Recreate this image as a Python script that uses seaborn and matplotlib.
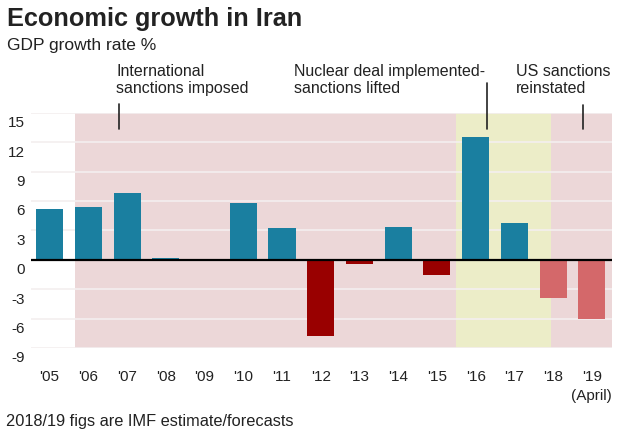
import matplotlib
matplotlib.use("Agg")
import matplotlib.pyplot as plt
import matplotlib.transforms as mtransforms
import seaborn as sns
import pandas as pd

years = ["'05", "'06", "'07", "'08", "'09", "'10", "'11", "'12", "'13", "'14",
         "'15", "'16", "'17", "'18", "'19"]
growth = [5.2, 5.4, 6.8, 0.2, 0.0, 5.8, 3.2, -7.8, -0.4, 3.3, -1.6, 12.5, 3.7, -3.9, -6.0]
kind = ["pos", "pos", "pos", "pos", "pos", "pos", "pos", "neg", "neg", "pos",
        "neg", "pos", "pos", "fc", "fc"]
tick_labels = years[:-1] + ["'19\n(April)"]
yticks = [-9, -6, -3, 0, 3, 6, 9, 12, 15]

palette = {"pos": "#1a7fa0", "neg": "#990000", "fc": "#d4686a"}
PINK = "#ecd7d8"
YELLOW = "#ecedc8"

sns.set_style("white")
plt.rcParams["font.family"] = ["Liberation Sans", "DejaVu Sans"]

W, H = 635, 429
fig = plt.figure(figsize=(W / 100, H / 100), dpi=100)
ax_l, ax_r, ax_t, ax_b = 31, 612, 112.7, 348
ax = fig.add_axes([ax_l / W, 1 - ax_b / H, (ax_r - ax_l) / W, (ax_b - ax_t) / H])

df = pd.DataFrame({"year": years, "growth": growth, "kind": kind})

# shaded periods
ax.axvspan(0.65, 14.52, color=PINK, zorder=0.1, lw=0)
ax.axvspan(10.5, 12.95, color=YELLOW, zorder=0.2, lw=0)

for yv in yticks:
    if yv != 0:
        ax.axhline(yv, color="#f4efef", lw=1.2, zorder=0.5)

sns.barplot(data=df, x="year", y="growth", hue="kind", palette=palette,
            dodge=False, width=0.7, legend=False, ax=ax, zorder=2,
            saturation=1, linewidth=0, edgecolor="none")
ax.set_xlim(-0.48, 14.52)
ax.set_ylim(-9, 15)

ax.axhline(0, color="black", lw=1.6, zorder=3)

for s in ax.spines.values():
    s.set_visible(False)
ax.set_xlabel("")
ax.set_ylabel("")
ax.set_yticks(yticks)
ax.set_yticklabels([str(v) for v in yticks])
ax.set_xticks(range(len(years)))
ax.set_xticklabels(tick_labels)
ax.tick_params(axis="y", length=0, pad=4.7, labelsize=11, labelcolor="#222222")
ax.tick_params(axis="x", length=0, pad=15.5, labelsize=11, labelcolor="#222222")
offset = mtransforms.ScaledTranslation(0, -9 / 100, fig.dpi_scale_trans)
for lab in ax.get_yticklabels():
    lab.set_transform(lab.get_transform() + offset)
for lab in ax.get_xticklabels():
    lab.set_linespacing(1.5)

# annotations
def ypx(p):
    return (260 - p) / 9.8

ann_text = ["International\nsanctions imposed", "Nuclear deal implemented-\nsanctions lifted",
            "US sanctions\nreinstated"]
ann_tx = [1.72, 6.31, 12.03]
ann_lx = [1.79, 11.3, 13.76]
ann_top = [104, 83, 105]
for t, tx, lx, top in zip(ann_text, ann_tx, ann_lx, ann_top):
    ax.text(tx, ypx(64), t, ha="left", va="top", fontsize=11.5, color="#222222",
            linespacing=1.2, clip_on=False)
    ax.plot([lx, lx], [ypx(top), ypx(129)], color="#222222", lw=1.2,
            clip_on=False, zorder=4)

fig.text(7 / W, 1 - 26 / H, "Economic growth in Iran", fontsize=18.2,
         fontweight="bold", color="#222222", ha="left", va="baseline")
fig.text(7 / W, 1 - 50 / H, "GDP growth rate %", fontsize=12.5,
         color="#222222", ha="left", va="baseline")
fig.text(6 / W, 1 - 426 / H, "2018/19 figs are IMF estimate/forecasts",
         fontsize=11.8, color="#222222", ha="left", va="baseline")

fig.savefig("out.png", dpi=100)
